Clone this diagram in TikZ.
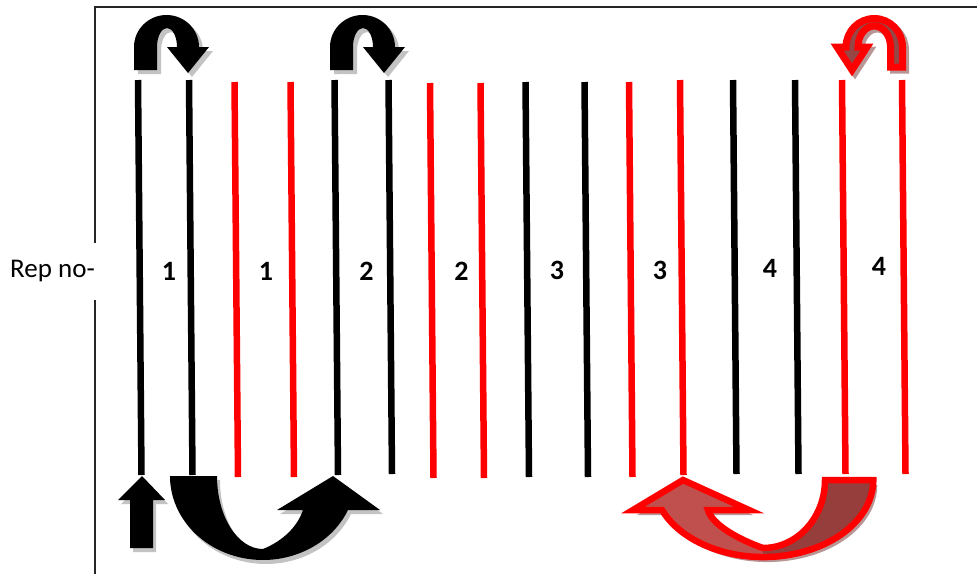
\documentclass[tikz,border=0pt]{standalone}
\usepackage{fontspec}
\setmainfont{Carlito}
\definecolor{shd}{RGB}{195,195,195}
\definecolor{rshd}{RGB}{185,150,150}
\definecolor{rdark}{RGB}{150,62,60}
\definecolor{rlight}{RGB}{192,80,77}
\definecolor{rmid}{RGB}{150,70,68}
\tikzset{
  pics/uturnshape/.style={code={
    \path[pic actions] (0,23) -- (0,0) arc[start angle=180,end angle=360,x radius=32.5,y radius=32]
      -- (75,0) -- (54,26) -- (33,0) -- (43,0)
      arc[start angle=360,end angle=180,x radius=10,y radius=19] -- (23,23) -- cycle;}},
  pics/uturnred/.style={code={
    \path[pic actions] (0,20) -- (0,0) arc[start angle=0,end angle=-180,x radius=28.25,y radius=28.5]
      -- (-65.5,0) -- (-50.5,23) -- (-35.5,0) -- (-44.5,0)
      arc[start angle=180,end angle=360,x radius=16.25,y radius=21] -- (-12,20) -- cycle;}},
  pics/curvedB/.style={code={
    \path[pic actions] (-93,0) -- (-46,0) arc[start angle=180,end angle=90,x radius=46,y radius=73]
      .. controls (22,64) and (35,49) .. (40,34) -- (14,34) -- (70,0) -- (117,34) -- (85,34)
      arc[start angle=23.9,end angle=180,x radius=93,y radius=84] -- cycle;}},
  pics/curvedR/.style={code={
    \path[pic actions] (-110,0) -- (-62,0) arc[start angle=180,end angle=90,x radius=62,y radius=68]
      .. controls (23,60) and (51,45) .. (55,30) -- (14,30) -- (80,0) -- (130,30) -- (101,30)
      arc[start angle=22.9,end angle=180,x radius=110,y radius=77] -- cycle;}},
  pics/uparrow/.style={code={
    \path[pic actions] (-12,72) -- (-12,24) -- (-24,24) -- (0,0) -- (23,24) -- (11,24) -- (11,72) -- cycle;}},
  bar/.style={line width=6.5pt},
  num/.style={font=\bfseries\fontsize{28}{28}\selectfont, inner sep=0pt},
  frame/.style={line width=1.6pt, black!85}
}
\begin{document}
\begin{tikzpicture}[x=1pt,y=-1pt]
\useasboundingbox (0,0) rectangle (977,574);
% frame
\draw[frame] (95,574) -- (95,300);
\draw[frame] (95,243) -- (95,7) -- (977,7);
\node[inner sep=0pt, font=\fontsize{27}{27}\selectfont] (rep) at (52.5,271) {Rep no-};
% bars
\foreach \x/\t/\b/\c in {138/80/475/black,189/80/475/black,234.5/82/477/red,290.5/82/477/red,
  334.5/80/475/black,388.5/80/474/black,430/83/478/red,480.5/83/478/red,
  525.5/82/477/black,584.5/82/477/black,629/82/477/red,680/80/475/red,
  733/80/474/black,795/80/474/black,842/80/474/red,902/80/474/red}
  \draw[bar,\c] (\x,\t) -- (\x+3.5,\b);
% numbers
\node[num] (n1) at (169,271) {1};
\node[num] (n2) at (266,271) {1};
\node[num] (n3) at (366.5,271) {2};
\node[num] (n4) at (461.5,271) {2};
\node[num] (n5) at (557,270) {3};
\node[num] (n6) at (660,270) {3};
\node[num] (n7) at (770,268) {4};
\node[num] (n8) at (879,266) {4};
% top u-turn arrows (black)
\pic[fill=shd] at (138,51) {uturnshape};
\pic[fill=black] at (134,47) {uturnshape};
\pic[fill=shd] at (334,51) {uturnshape};
\pic[fill=black] at (330,47) {uturnshape};
% top u-turn arrow (red)
\pic[draw=rshd, fill=rshd, line width=7pt] at (905.5,50) {uturnred};
\pic[fill=rmid, draw=red, line width=7pt, line join=miter] at (902.5,47) {uturnred};
% bottom up arrow
\pic[fill=shd] at (145,480) {uparrow};
\pic[fill=black] at (142,476) {uparrow};
% bottom black curved arrow
\pic[fill=shd] at (266,480) {curvedB};
\pic[fill=black] at (263,476) {curvedB};
% bottom red curved arrow
\pic[fill=rshd, xscale=-1] at (767,485) {curvedR};
\pic[fill=rdark, xscale=-1] at (763,480) {curvedR};
\begin{scope}
  \clip (600,470) rectangle (763,570);
  \pic[fill=rlight, xscale=-1] at (763,480) {curvedR};
\end{scope}
\pic[draw=red, line width=6.5pt, line join=miter, xscale=-1] at (763,480) {curvedR};
\end{tikzpicture}
\end{document}
